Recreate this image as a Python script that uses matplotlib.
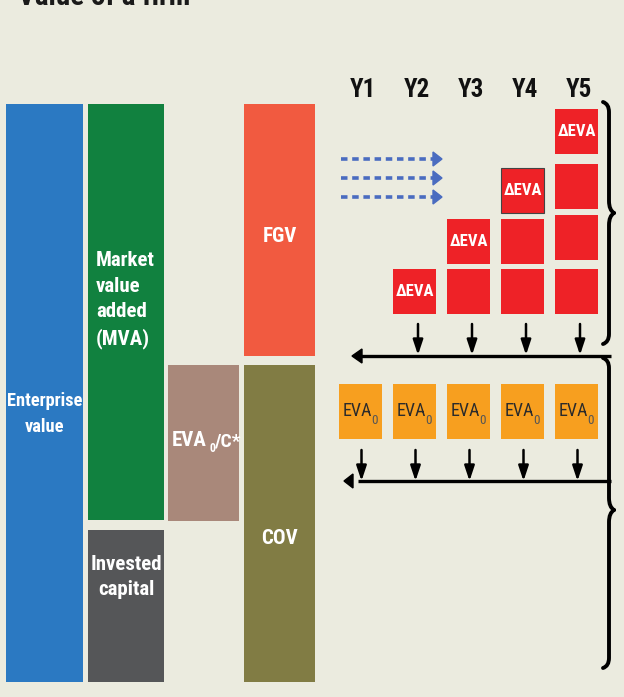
import matplotlib
matplotlib.use("Agg")
import matplotlib.pyplot as plt
from matplotlib import font_manager
from matplotlib.patches import Rectangle, Polygon, PathPatch
from matplotlib.path import Path

BG = "#ebebdf"
_names = {f.name for f in font_manager.fontManager.ttflist}
COND = None
for cand in ["Roboto Condensed", "Liberation Sans Narrow", "Open Sans Condensed",
             "DejaVu Sans Condensed"]:
    if cand in _names:
        COND = cand
        break
FONT = [COND, "DejaVu Sans"] if COND else ["DejaVu Sans"]
STRETCH = "condensed"

# ---- data ----
title = "Value of a firm"
years = ["Y1", "Y2", "Y3", "Y4", "Y5"]
delta_counts = [0, 1, 2, 3, 4]
eva_label = "EVA"
eva_sub = "0"
delta_label = "ΔEVA"

block_labels = ["Enterprise\nvalue", "Market\nvalue\nadded\n(MVA)", "Invested\ncapital",
                "EVA", "FGV", "COV"]
block_colors = ["#2b79c2", "#11813f", "#555658", "#a9887a", "#f15a40", "#817c44"]
block_x = [(6, 83), (88, 164), (88, 164), (168, 239), (244, 315), (244, 315)]
block_y = [(104, 682), (104, 520), (530, 682), (365, 521), (104, 356), (365, 682)]

fig = plt.figure(figsize=(6.24, 6.97), dpi=100, facecolor=BG)
ax = fig.add_axes([0, 0, 1, 1])
ax.set_xlim(0, 624)
ax.set_ylim(697, 0)
ax.axis("off")


def T(x, y, s, size, **kw):
    kw.setdefault("fontweight", "bold")
    kw.setdefault("color", "white")
    return ax.text(x, y, s, fontsize=size, family=FONT, fontstretch=STRETCH, **kw)


# title (cut off at top)
T(18, 5, title, 21, color="#1a1a1a", va="baseline", ha="left")

for lab, col, (x0, x1), (y0, y1) in zip(block_labels, block_colors, block_x, block_y):
    ax.add_patch(Rectangle((x0, y0), x1 - x0, y1 - y0, color=col, lw=0))
    cx = (x0 + x1) / 2
    if lab.startswith("Market"):
        T(96, 300, lab, 15, ha="left", va="center", linespacing=1.42)
    elif lab.startswith("Enterprise"):
        T(cx, 414, lab, 13.2, ha="center", va="center", linespacing=1.6)
    elif lab.startswith("Invested"):
        T(126, 577, lab, 15, ha="center", va="center", linespacing=1.42)
    elif lab == "EVA":
        T(207, 441, "EVA", 15, ha="right", va="center")
        T(209, 448, "0", 8.5, ha="left", va="center")
        T(214, 441, "/C*", 14, ha="left", va="center")
    else:
        T(cx, 237 if lab == "FGV" else 538, lab, 15, ha="center", va="center")

col_x = [339, 393, 447, 501, 555]
bw, bh = 43, 45
arrow_kw = dict(arrowstyle="-|>,head_width=0.3,head_length=0.9",
                color="black", lw=1.8, shrinkA=0, shrinkB=0)
for i, (yr, n) in enumerate(zip(years, delta_counts)):
    cx = col_x[i] + bw / 2
    T(cx + 2, 90, yr, 18, color="#111111", ha="center", va="center")
    bottoms = [314, 264, 213, 158]
    for k in range(n):
        yb = bottoms[k] - (4 if i == 4 and k > 0 else 0)
        yt = yb - bh
        edge = "#444444" if (i == 3 and k == n - 1) else "none"
        ax.add_patch(Rectangle((col_x[i], yt), bw, bh, facecolor="#ee2227",
                               edgecolor=edge, lw=0.8))
        if k == n - 1:
            T(cx, (yt + yb) / 2, delta_label, 12, ha="center", va="center")
    if n > 0:
        ax.annotate("", xy=(cx + 3.5, 355), xytext=(cx + 3.5, 324), arrowprops=arrow_kw)
    ax.add_patch(Rectangle((col_x[i], 384), bw, 55, color="#f79f1f", lw=0))
    T(col_x[i] + 4, 411, eva_label, 13, fontweight="normal", color="#2b2b2b",
      ha="left", va="center")
    T(col_x[i] + 32, 421, eva_sub, 9.5, fontweight="normal", color="#555555",
      ha="left", va="center")
    xa = cx + 1
    ax.annotate("", xy=(xa, 481), xytext=(xa, 450), arrowprops=arrow_kw)

ax.plot([356, 611], [356, 356], color="black", lw=2.4, solid_capstyle="butt")
ax.add_patch(Polygon([[352, 356], [362, 349], [362, 363]], closed=True, color="black"))
ax.plot([358, 611], [481, 481], color="black", lw=2.4, solid_capstyle="butt")
ax.add_patch(Polygon([[344, 481], [353, 474], [353, 488]], closed=True, color="black"))

for yy in [159, 178, 197]:
    ax.plot([341, 434], [yy, yy], color="#4a6cc0", lw=2.6, dashes=(1.8, 1.3))
    ax.add_patch(Polygon([[442, yy], [433, yy - 7], [433, yy + 7]], closed=True,
                         color="#4a6cc0"))


def brace(y0, y1, ytip):
    x0, xv, xt = 603, 609, 614
    verts = [(x0, y0), (xv, y0 + 2), (xv, y0 + 10),
             (xv, ytip - 12),
             (xv, ytip - 3), (xt, ytip), (xt, ytip),
             (xv, ytip + 3), (xv, ytip + 12),
             (xv, y1 - 10),
             (xv, y1 - 2), (x0, y1)]
    codes = [Path.MOVETO, Path.CURVE3, Path.CURVE3, Path.LINETO,
             Path.CURVE3, Path.CURVE3, Path.MOVETO,
             Path.CURVE3, Path.CURVE3, Path.LINETO,
             Path.CURVE3, Path.CURVE3]
    ax.add_patch(PathPatch(Path(verts, codes), fill=False, lw=2.8, edgecolor="black",
                           capstyle="round"))


brace(102, 344, 213)
brace(358, 668, 510)

fig.savefig("out.png", dpi=100, facecolor=BG)
